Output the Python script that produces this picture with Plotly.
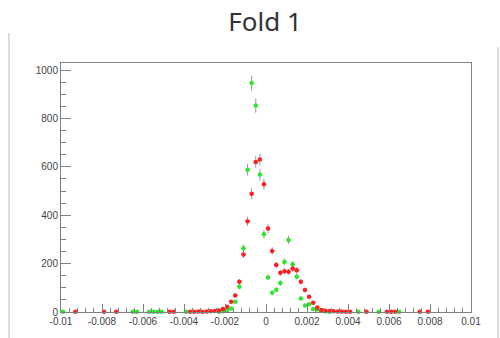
import numpy as np
import plotly.graph_objects as go

# 100 bins from -0.01 to 0.01
bin_edges_lo = -0.01
bin_width = 0.0002
n_bins = 100

red_counts = [0] * n_bins
for i, v in {3: 1, 10: 1, 13: 1, 26: 1, 27: 1, 31: 1, 32: 1, 33: 2, 34: 1, 35: 2,
             36: 3, 37: 4, 38: 6, 39: 12, 40: 22, 41: 42, 42: 68, 43: 125, 44: 238,
             45: 375, 46: 489, 47: 620, 48: 630, 49: 528, 50: 345, 51: 252, 52: 194,
             53: 162, 54: 168, 55: 166, 56: 180, 57: 173, 58: 125, 59: 91, 60: 63,
             61: 38, 62: 19, 63: 8, 64: 5, 65: 4, 66: 3, 67: 2, 68: 2, 69: 1, 70: 1,
             74: 1, 79: 1, 80: 1, 81: 1, 87: 1, 89: 1}.items():
    red_counts[i] = v

green_counts = [0] * n_bins
for i, v in {0: 1, 17: 1, 18: 1, 21: 1, 22: 1, 23: 1, 24: 1, 30: 1, 38: 1, 39: 3,
             40: 8, 41: 14, 42: 42, 43: 104, 44: 263, 45: 588, 46: 946, 47: 853,
             48: 568, 49: 321, 50: 143, 51: 80, 52: 92, 53: 120, 54: 207, 55: 298,
             56: 197, 57: 146, 58: 56, 59: 27, 60: 32, 61: 12, 62: 10, 63: 4, 64: 2,
             65: 1, 72: 1, 77: 1, 82: 1}.items():
    green_counts[i] = v

x_tick_vals = [-0.01, -0.008, -0.006, -0.004, -0.002, 0, 0.002, 0.004, 0.006, 0.008, 0.01]
x_tick_text = ["-0.01", "-0.008", "-0.006", "-0.004", "-0.002", "0", "0.002", "0.004", "0.006", "0.008", "0.01"]
y_tick_vals = [0, 200, 400, 600, 800, 1000]
y_tick_text = ["0", "200", "400", "600", "800", "1000"]

centers = bin_edges_lo + bin_width * (np.arange(n_bins) + 0.5)


def make_trace(counts, color):
    c = np.array(counts, dtype=float)
    mask = c > 0
    return go.Scatter(
        x=centers[mask], y=c[mask], mode="markers",
        marker=dict(color=color, size=4.5, symbol="circle", line=dict(width=0)),
        error_y=dict(type="data", array=np.sqrt(c[mask]), color="rgba(120,120,120,0.75)",
                     thickness=1, width=0),
        error_x=dict(type="constant", value=bin_width / 2, color=color, thickness=1, width=0),
        cliponaxis=False, showlegend=False,
    )


fig = go.Figure()
fig.add_trace(make_trace(green_counts, "#2ee62e"))
fig.add_trace(make_trace(red_counts, "#ff2020"))

axis_common = dict(showline=True, linecolor="#808080", linewidth=1, mirror=True,
                   ticks="inside", tickcolor="#808080", showgrid=False, zeroline=False,
                   tickfont=dict(family="Liberation Sans", size=10, color="#444"))

fig.update_xaxes(range=[-0.01, 0.01], tickvals=x_tick_vals, ticktext=x_tick_text,
                 ticklen=8, minor=dict(dtick=0.0004, tick0=0, ticklen=4, ticks="inside",
                                       tickcolor="#808080"),
                 **axis_common)
fig.update_yaxes(range=[0, 1029], tickvals=y_tick_vals, ticktext=y_tick_text,
                 ticklen=10, minor=dict(dtick=50, tick0=0, ticklen=5, ticks="inside",
                                        tickcolor="#808080"),
                 **axis_common)

fig.update_layout(
    width=500, height=338,
    margin=dict(l=61, r=29, t=63, b=26),
    paper_bgcolor="white", plot_bgcolor="white",
    title=dict(text="Fold 1", x=265 / 500, xanchor="center", y=1 - 22 / 338, yanchor="middle",
               font=dict(family="Noto Sans", size=26, color="#333")),
    shapes=[
        dict(type="line", xref="paper", yref="paper", x0=-52 / 410, x1=-52 / 410,
             y0=(312 - 33) / 249, y1=-26 / 249, line=dict(color="#d0d0d0", width=1.5)),
        dict(type="line", xref="paper", yref="paper", x0=437 / 410, x1=437 / 410,
             y0=(312 - 47) / 249, y1=-26 / 249, line=dict(color="#d0d0d0", width=1.5)),
    ],
)

fig.write_html("out.html")
